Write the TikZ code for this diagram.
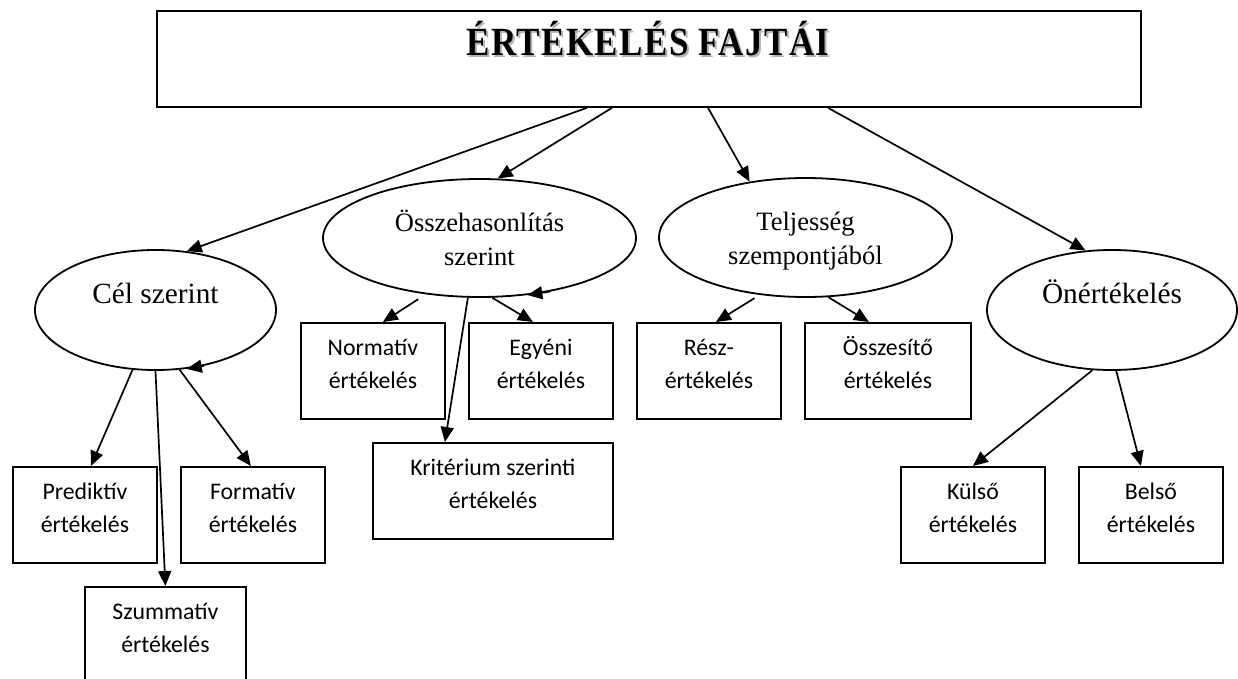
\documentclass[tikz,border=0pt]{standalone}
\usepackage{graphicx}
\usepackage{fontspec}
\setmainfont{Liberation Serif}
\newfontfamily\boxfont{Carlito}
\newfontfamily\titlefont[LetterSpace=4]{Liberation Serif}
\usetikzlibrary{arrows.meta,shapes.geometric,calc}
\definecolor{shadowgray}{HTML}{B4B4B4}
\newcommand{\lnstack}[2]{\begin{tabular}[t]{@{}c@{}}#1\\#2\end{tabular}}
\newcommand{\ttltext}{\titlefont\bfseries\fontsize{40}{44}\selectfont\scalebox{0.875}[1]{ÉRTÉKELÉS FAJTÁI}}
\tikzset{
  sbox/.style={draw, line width=1.8pt, rectangle, inner sep=0pt, anchor=north west,
    minimum height=96pt, font=\boxfont\fontsize{23.8}{33}\selectfont,
    text height=23pt, text depth=53pt},
  oval/.style={draw, line width=1.8pt, ellipse, inner sep=0pt,
    font=\fontsize{26.5}{34}\selectfont, text height=20pt, text depth=34pt},
  bigoval/.style={oval, font=\fontsize{29.3}{34}\selectfont},
  arr/.style={line width=1.7pt, -{Triangle[length=15pt,width=13pt]}},
}
\begin{document}
\begin{tikzpicture}[x=1pt,y=-1pt]
\useasboundingbox (0,0) rectangle (1238,678);
\fill[white] (0,0) rectangle (1238,678);
% title
\node[draw, line width=1.8pt, rectangle, inner sep=0pt, anchor=north west,
  minimum width=984pt, minimum height=96pt] (title) at (156,10) {};
\node[anchor=base, inner sep=0pt, text=shadowgray] (ttlshadow) at (650,57.5) {\ttltext};
\node[anchor=base, inner sep=0pt] (ttltxt) at (648,55.5) {\ttltext};
% ellipses
\node[bigoval, minimum width=241pt, minimum height=120pt] (cel) at (155.5,310) {\lnstack{Cél szerint}{}};
\node[oval, minimum width=313pt, minimum height=118pt] (osz) at (479.5,238) {\lnstack{Összehasonlítás}{szerint}};
\node[oval, minimum width=293pt, minimum height=119pt] (tel) at (805.5,237.5) {\lnstack{Teljesség}{szempontjából}};
\node[bigoval, minimum width=250pt, minimum height=120pt] (onert) at (1112,310) {\lnstack{Önértékelés}{}};
% boxes
\node[sbox, minimum width=144pt] (pred) at (12,466) {\lnstack{Prediktív}{értékelés}};
\node[sbox, minimum width=144pt] (form) at (180,466) {\lnstack{Formatív}{értékelés}};
\node[sbox, minimum width=161pt] (szum) at (84,586) {\lnstack{Szummatív}{értékelés}};
\node[sbox, minimum width=144pt] (norm) at (300,322) {\lnstack{Normatív}{értékelés}};
\node[sbox, minimum width=144pt] (egy) at (468,322) {\lnstack{Egyéni}{értékelés}};
\node[sbox, minimum width=240pt] (krit) at (372,442) {\lnstack{Kritérium szerinti}{értékelés}};
\node[sbox, minimum width=144pt] (resz) at (636,322) {\lnstack{Rész-}{értékelés}};
\node[sbox, minimum width=166pt] (ossz) at (804,322) {\lnstack{Összesítő}{értékelés}};
\node[sbox, minimum width=144pt] (kuls) at (900,466) {\lnstack{Külső}{értékelés}};
\node[sbox, minimum width=144pt] (bels) at (1078,466) {\lnstack{Belső}{értékelés}};
% connectors from title
\draw[arr] ([xshift=431pt]title.south west) -- (cel.62);
\draw[arr] ([xshift=456pt]title.south west) -- (osz.73);
\draw[arr] ([xshift=552pt]title.south west) -- (tel.135);
\draw[arr] ([xshift=672pt]title.south west) -- (onert.114);
% Cél szerint
\draw[arr] (cel.249) -- ([xshift=6pt]pred.north);
\draw[arr] (cel.270) -- (szum.north);
\draw[arr] (cel.292) -- ([xshift=-2pt]form.north);
\draw[arr] (cel.311) -- (cel.298);
% Összehasonlítás
\draw[arr] ([yshift=-6pt]osz.222) -- ([xshift=10pt]norm.north);
\draw[arr] (osz.282) -- ([xshift=-8pt]egy.north);
\draw[arr] (osz.259) -- ([xshift=-48pt]krit.north);
\draw[arr] (osz.323) -- (osz.310);
% Teljesség
\draw[arr] ([yshift=-4pt]tel.228) -- ([xshift=7pt]resz.north);
\draw[arr] (tel.291) -- ([xshift=-19pt]ossz.north);
% Önértékelés
\draw[arr] (onert.252) -- (kuls.north);
\draw[arr] (onert.274) -- ([xshift=-10pt]bels.north);
\end{tikzpicture}
\end{document}
